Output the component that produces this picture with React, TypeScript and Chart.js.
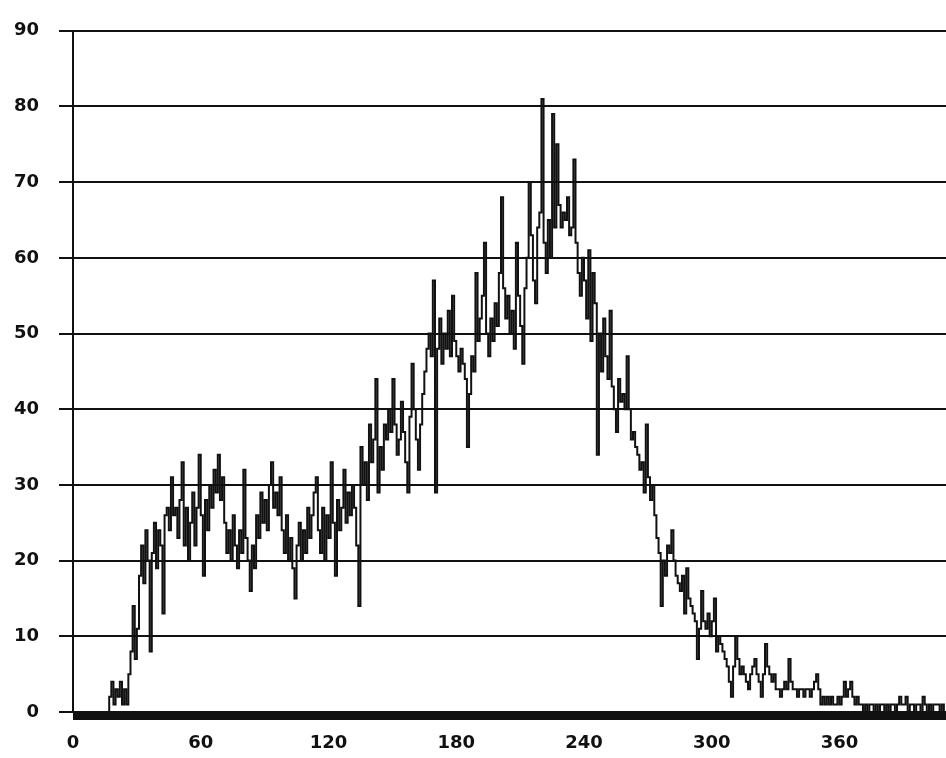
import React, { useEffect, useRef } from "react";
import { Chart, registerables } from "chart.js";

Chart.register(...registerables);

// Counts per channel, channel = index (0 .. 409)
const baseline: number[] = [0, 0, 0, 0, 0, 0, 0, 0, 0, 0, 0, 0, 0, 0, 0, 0, 0];
const risingEdge: number[] = [
  2, 4, 1, 3, 2, 4, 1, 3, 1, 5, 8, 14, 7, 11, 18, 22, 17, 24, 20, 8, 21, 25, 19,
];
const plateau: number[] = [
  24, 22, 13, 26, 27, 24, 31, 26, 27, 23, 28, 33, 22, 27, 20, 25, 29, 22, 27, 34,
  26, 18, 28, 24, 30, 27, 32, 29, 34, 28, 31, 25, 21, 24, 20, 26, 22, 19, 24, 21,
  32, 23, 20, 16, 22, 19, 26, 23, 29, 25, 28, 24, 30, 33, 27, 29, 26, 31, 24, 21,
  26, 20, 23, 19, 15, 22, 25, 20, 24, 21, 27, 23, 26, 29, 31, 24, 21, 27, 20, 26,
  23, 33, 25, 18, 28, 24, 27, 32, 25, 29, 26, 30, 27, 22, 14, 35, 30, 33, 28, 38,
];
const mainPeak: number[] = [
  33, 36, 44, 29, 35, 32, 38, 36, 40, 37, 44, 38, 34, 36, 41, 37, 33, 29, 39, 46,
  40, 36, 32, 38, 42, 45, 48, 50, 47, 57, 29, 48, 52, 46, 50, 48, 53, 47, 55, 49,
  47, 45, 48, 46, 44, 35, 42, 47, 45, 58, 49, 52, 55, 62, 50, 47, 52, 49, 54, 51,
  58, 68, 56, 52, 55, 50, 53, 48, 62, 55, 51, 46, 56, 60, 70, 63, 57, 54, 64, 66,
  81, 62, 58, 65, 60, 79, 64, 75, 67, 64, 66, 65, 68, 63, 64, 73, 62, 58, 55, 60,
  57, 52, 61, 49, 58, 54, 34, 50, 45, 52, 47, 44, 53, 43, 40, 37, 44, 41, 42, 40,
  47, 40, 36, 37, 35, 34, 32, 33, 29, 38, 31, 28, 30, 26, 23, 21, 14, 20, 18, 22,
];
const tail: number[] = [
  21, 24, 20, 18, 17, 16, 18, 13, 19, 15, 14, 13, 12, 7, 11, 16, 12, 11, 13, 10,
  12, 15, 8, 10, 9, 8, 7, 6, 4, 2, 6, 10, 7, 5, 6, 5, 4, 3, 5, 6,
  7, 5, 4, 2, 5, 9, 6, 5, 4, 5, 3, 3, 2, 3, 4, 3, 7, 4, 3, 3,
  2, 3, 3, 2, 3, 3, 2, 3, 4, 5, 3, 1, 2, 1, 2, 1, 2, 1, 1, 2,
  1, 2, 4, 2, 3, 4, 2, 1, 2, 1, 1, 0, 1, 0, 1, 1, 0, 1, 0, 1,
  1, 0, 1, 0, 1, 1, 0, 1, 2, 1, 1, 2, 0, 1, 1, 0, 1, 1, 0, 2,
  1, 0, 1, 0, 1, 1, 1, 0, 1, 0,
];

const counts: number[] = [...baseline, ...risingEdge, ...plateau, ...mainPeak, ...tail];

const xMin = 0;
const xMax = 410;
const xStep = 60;
const yMin = 0;
const yMax = 90;
const yStep = 10;

const INK = "#111111";
const FONT = { family: "'DejaVu Sans', sans-serif", size: 18, weight: "bold" as const };

const baseBar = {
  id: "baseBar",
  afterDatasetsDraw(chart: any) {
    const { ctx, chartArea } = chart;
    ctx.save();
    ctx.fillStyle = INK;
    ctx.fillRect(chartArea.left, chartArea.bottom, chartArea.right - chartArea.left, 8);
    ctx.restore();
  },
};

export default function App() {
  const ref = useRef<HTMLCanvasElement | null>(null);

  useEffect(() => {
    if (!ref.current) return;
    const points = counts.map((v, i) => ({ x: i, y: v }));
    const chart = new Chart(ref.current, {
      type: "line",
      data: {
        datasets: [
          {
            data: points,
            borderColor: INK,
            borderWidth: 2,
            pointRadius: 0,
            stepped: true,
            fill: false,
          },
        ],
      },
      options: {
        animation: false,
        responsive: false,
        maintainAspectRatio: false,
        layout: { padding: { top: 27, right: 0, left: 0, bottom: 0 } },
        plugins: {
          legend: { display: false },
          tooltip: { enabled: false },
        },
        scales: {
          x: {
            type: "linear",
            min: xMin,
            max: xMax,
            grid: { display: false, drawTicks: false },
            border: { display: false },
            ticks: {
              stepSize: xStep,
              includeBounds: false,
              color: INK,
              font: FONT,
              padding: 21,
              maxRotation: 0,
            },
            afterFit: (s: any) => {
              s.height = 46;
            },
          },
          y: {
            type: "linear",
            min: yMin,
            max: yMax,
            grid: { color: INK, lineWidth: 2, tickLength: 14, drawTicks: true },
            border: { display: true, color: INK, width: 2 },
            ticks: {
              stepSize: yStep,
              color: INK,
              font: FONT,
              padding: 20,
            },
            afterFit: (s: any) => {
              s.width = 73;
            },
          },
        },
      },
      plugins: [baseBar],
    });
    return () => chart.destroy();
  }, []);

  return (
    <div style={{ position: "fixed", left: 0, top: 0, width: 946, height: 758, background: "#fff" }}>
      <canvas ref={ref} width={946} height={758} style={{ width: 946, height: 758, display: "block" }} />
    </div>
  );
}
